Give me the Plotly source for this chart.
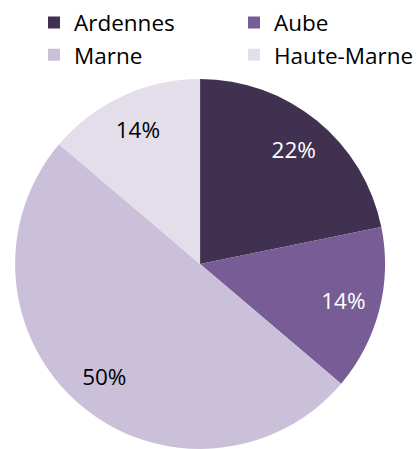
import plotly.graph_objects as go

labels = ["Ardennes", "Aube", "Marne", "Haute-Marne"]
values = [21.8, 14.4, 50.0, 13.8]
colors = ["#403151", "#775C96", "#CBC0DA", "#E4DEEB"]
text_colors = ["#FFFFFF", "#FFFFFF", "#000000", "#000000"]

dom = dict(x=[0.0, 0.955], y=[0.0, 0.824])

fig = go.Figure()
# main pie (colours + legend)
fig.add_trace(go.Pie(
    labels=labels,
    values=values,
    sort=False,
    direction="clockwise",
    rotation=0,
    marker=dict(colors=colors, line=dict(width=0)),
    textinfo="none",
    domain=dom,
    hoverinfo="label+percent",
))
# transparent ring carrying the percentage labels further out
fig.add_trace(go.Pie(
    labels=labels,
    values=values,
    sort=False,
    direction="clockwise",
    rotation=0,
    hole=0.6,
    marker=dict(colors=["rgba(0,0,0,0)"] * 4, line=dict(width=0)),
    texttemplate="%{percent:.0%}",
    textposition="inside",
    insidetextorientation="horizontal",
    textfont=dict(family="Open Sans", size=22.5, color=text_colors),
    domain=dom,
    showlegend=False,
    hoverinfo="skip",
))

fig.update_layout(
    width=419, height=449,
    margin=dict(l=0, r=0, t=0, b=0, autoexpand=False),
    paper_bgcolor="white",
    plot_bgcolor="white",
    font=dict(family="Open Sans", size=22.5, color="#000000"),
    legend=dict(
        orientation="h",
        x=34 / 419, xanchor="left",
        y=0.997, yanchor="top",
        entrywidth=155, entrywidthmode="pixels",
        itemwidth=30,
        font=dict(family="Open Sans", size=22.5, color="#000000"),
        bgcolor="rgba(0,0,0,0)",
    ),
    showlegend=True,
)

fig.write_html("out.html", config={"displayModeBar": False},
               post_script="document.body.style.margin='0';")
